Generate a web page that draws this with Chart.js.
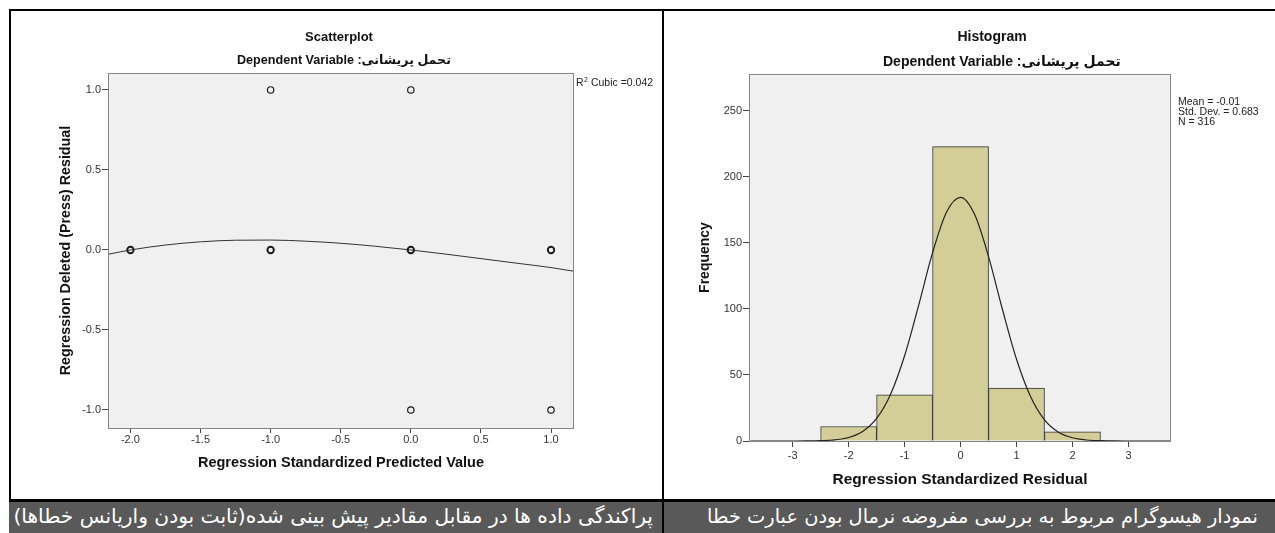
<!DOCTYPE html>
<html>
<head>
<meta charset="utf-8">
<script src="https://cdn.jsdelivr.net/npm/chart.js@4.4.1/dist/chart.umd.min.js"></script>
<style>
  html, body { margin: 0; padding: 0; background: #fff; overflow: hidden; }
  #page { position: relative; width: 1275px; height: 533px; overflow: hidden; background: #fff; }
  canvas { position: absolute; }
  #scatterCanvas { left: 11px; top: 11px; }
  #histCanvas { left: 665px; top: 11px; }
  .rule { position: absolute; background: #000; z-index: 3; }
  .caption {
    position: absolute; top: 502px; height: 31px; background: #595959; color: #fff;
    font-family: "DejaVu Sans", "Noto Sans", sans-serif;
    direction: rtl; text-align: right; line-height: 29px; white-space: nowrap; overflow: hidden;
    box-sizing: border-box; z-index: 2;
  }
</style>
</head>
<body>
<div id="page">
  <canvas id="scatterCanvas" width="660" height="488"></canvas>
  <canvas id="histCanvas" width="656" height="488"></canvas>

  <div class="caption" style="left:9px; width:654px; padding-right:10px; font-size:20.2px;">پراکندگی داده ها در مقابل مقادیر پیش بینی شده(ثابت بودن واریانس خطاها)</div>
  <div class="caption" style="left:663px; width:612px; padding-right:17px; font-size:19.4px;">نمودار هیسوگرام مربوط به بررسی مفروضه نرمال بودن عبارت خطا</div>

  <div class="rule" style="left:9px; top:9px; width:1266px; height:2px;"></div>
  <div class="rule" style="left:9px; top:9px; width:2px; height:493px;"></div>
  <div class="rule" style="left:662px; top:9px; width:2px; height:524px;"></div>
  <div class="rule" style="left:9px; top:499px; width:1266px; height:3px;"></div>
</div>

<script>
// ---- Scatterplot: standardized predicted value vs deleted (press) residual ----
const scatterX = [-2, -1, -1, 0, 0, 0, 1, 1];
const scatterY = [0, 1, 0, 1, 0, -1, 0, -1];
// cubic fit line, sampled along the predicted-value axis
const fitX = [-2.16, -2.0, -1.75, -1.5, -1.25, -1.0, -0.75, -0.5, -0.25, 0.0, 0.25, 0.5, 0.75, 1.0, 1.164];
const fitY = [-0.027, 0.0, 0.031, 0.051, 0.061, 0.062, 0.055, 0.042, 0.023, 0.0, -0.026, -0.054, -0.082, -0.110, -0.133];
const scatterXTicks = [-2.0, -1.5, -1.0, -0.5, 0.0, 0.5, 1.0];
const scatterYTicks = [-1.0, -0.5, 0.0, 0.5, 1.0];
const cubicR2 = '0.042';

// ---- Histogram of standardized residuals ----
const binCenters = [-2, -1, 0, 1, 2];
const binCounts = [11, 35, 223, 40, 7];
const histXTicks = [-3, -2, -1, 0, 1, 2, 3];
const histYTicks = [0, 50, 100, 150, 200, 250];
// normal curve overlay (frequency scale)
const curveX = [-3.75, -3.5, -3.25, -3.0, -2.75, -2.5, -2.25, -2.0, -1.75, -1.5, -1.25, -1.0, -0.75, -0.5, -0.25,
                0.0, 0.25, 0.5, 0.75, 1.0, 1.25, 1.5, 1.75, 2.0, 2.25, 2.5, 2.75, 3.0, 3.25, 3.5, 3.75];
const curveY = [0, 0, 0, 0.01, 0.06, 0.25, 0.85, 2.65, 7.19, 17.1, 35.5, 64.6, 102.6, 142.7, 173.5,
                184.6, 171.7, 139.7, 99.4, 61.9, 33.7, 16.0, 6.67, 2.43, 0.77, 0.22, 0.05, 0.01, 0, 0, 0];
const statLines = ['Mean = -0.01', 'Std. Dev. = 0.683', 'N = 316'];

// heading texts
const depLabel = 'Dependent Variable :';
const depName = 'تحمل پریشانی';

const SANS = '"Liberation Sans", Arial, "DejaVu Sans", sans-serif';
const TICK_COLOR = '#333';
const TITLE_COLOR = '#111';

// light grey plot panel with a thin grey frame
const plotFrame = {
  id: 'plotFrame',
  beforeDraw(chart, args, opts) {
    const { ctx, chartArea: a } = chart;
    ctx.save();
    ctx.fillStyle = opts.fill;
    ctx.fillRect(a.left, a.top, a.right - a.left, a.bottom - a.top);
    ctx.restore();
  },
  afterDatasetsDraw(chart, args, opts) {
    const { ctx, chartArea: a } = chart;
    ctx.save();
    ctx.strokeStyle = opts.stroke;
    ctx.lineWidth = 1;
    ctx.strokeRect(Math.round(a.left) + 0.5, Math.round(a.top) + 0.5,
                   Math.round(a.right - a.left) - 1, Math.round(a.bottom - a.top));
    ctx.restore();
  }
};

// chart heading and the dependent-variable line above the panel;
// an item made of several parts is written piece after piece from its x
const headings = {
  id: 'headings',
  afterDraw(chart, args, opts) {
    const { ctx } = chart;
    ctx.save();
    ctx.fillStyle = TITLE_COLOR;
    ctx.textBaseline = 'middle';
    ctx.direction = 'ltr';
    opts.items.forEach(it => {
      ctx.font = 'bold ' + it.size + 'px ' + SANS;
      if (it.parts) {
        ctx.textAlign = 'left';
        let x = it.x;
        it.parts.forEach(p => {
          ctx.fillText(p, x, it.y);
          x += ctx.measureText(p).width;
        });
      } else {
        ctx.textAlign = it.align;
        ctx.fillText(it.text, it.x, it.y);
      }
    });
    ctx.restore();
  }
};

// small notes printed to the right of the plot panel
const sideNotes = {
  id: 'sideNotes',
  afterDraw(chart, args, opts) {
    if (!opts.lines) return;
    const { ctx, chartArea: a } = chart;
    const size = opts.size;
    ctx.save();
    ctx.fillStyle = '#222';
    ctx.textBaseline = 'middle';
    ctx.textAlign = 'left';
    opts.lines.forEach((line, i) => {
      let x = a.right + opts.dx;
      const y = opts.y + i * opts.step;
      ctx.font = size + 'px ' + SANS;
      if (typeof line === 'string') {
        ctx.fillText(line, x, y);
      } else {
        ctx.fillText(line.base, x, y);
        x += ctx.measureText(line.base).width;
        ctx.font = Math.round(size * 0.7) + 'px ' + SANS;
        ctx.fillText(line.power, x + 0.5, y - 3);
        x += ctx.measureText(line.power).width + 0.5;
        ctx.font = size + 'px ' + SANS;
        ctx.fillText(line.rest, x, y);
      }
    });
    ctx.restore();
  }
};

function fixedTicks(values) {
  return scale => { scale.ticks = values.map(v => ({ value: v })); };
}

function axisGrid(len) {
  return { display: true, drawOnChartArea: false, drawTicks: true, tickLength: len, color: '#444', lineWidth: 1, offset: false };
}

function spacer(width) {
  return {
    type: 'linear', position: 'right', display: true,
    grid: { display: false }, ticks: { display: false }, border: { display: false },
    afterFit: s => { s.width = width; }
  };
}

// ---------------- Scatterplot ----------------
new Chart(document.getElementById('scatterCanvas'), {
  type: 'scatter',
  data: {
    datasets: [
      {
        label: 'Cases',
        data: scatterX.map((x, i) => ({ x, y: scatterY[i] })),
        pointStyle: 'circle',
        pointRadius: 3.2,
        pointBackgroundColor: 'rgba(0,0,0,0)',
        pointBorderColor: '#1a1a1a',
        pointBorderWidth: ctx => (ctx.raw && ctx.raw.y === 0 ? 1.9 : 1.2),
        showLine: false,
        order: 1
      },
      {
        label: 'Cubic fit',
        data: fitX.map((x, i) => ({ x, y: fitY[i] })),
        showLine: true,
        pointRadius: 0,
        borderColor: '#333',
        borderWidth: 1,
        cubicInterpolationMode: 'monotone',
        order: 2
      }
    ]
  },
  options: {
    responsive: false,
    animation: false,
    devicePixelRatio: 1,
    layout: { padding: { top: 62 } },
    plugins: {
      legend: { display: false },
      tooltip: { enabled: false },
      headings: {
        items: [
          { text: 'Scatterplot', size: 13, align: 'center', x: 328, y: 26 },
          { parts: [depLabel, depName], size: 12.6, x: 226, y: 50 }
        ]
      },
      plotFrame: { fill: '#f0f0f0', stroke: '#858585' },
      sideNotes: { dx: 2, y: 72, step: 10, size: 10.5, lines: [{ base: 'R', power: '2', rest: ' Cubic =' + cubicR2 }] }
    },
    scales: {
      x: {
        type: 'linear', min: -2.16, max: 1.164,
        afterBuildTicks: fixedTicks(scatterXTicks),
        ticks: { callback: v => v.toFixed(1), color: TICK_COLOR, font: { family: SANS, size: 11 }, padding: 0, maxRotation: 0, autoSkip: false },
        grid: axisGrid(5),
        border: { display: false },
        title: {
          display: true, text: 'Regression Standardized Predicted Value', color: TITLE_COLOR,
          font: { family: SANS, size: 14.5, weight: 'bold' }, padding: { top: 0, bottom: 27.3 }
        },
        afterFit: s => { s.height = 71; }
      },
      y: {
        type: 'linear', min: -1.1125, max: 1.106,
        afterBuildTicks: fixedTicks(scatterYTicks),
        ticks: { callback: v => v.toFixed(1), color: TICK_COLOR, font: { family: SANS, size: 11 }, padding: 1, autoSkip: false },
        grid: axisGrid(6),
        border: { display: false },
        title: {
          display: true, text: 'Regression Deleted (Press) Residual', color: TITLE_COLOR,
          font: { family: SANS, size: 14.3, weight: 'bold' }, padding: { top: 46.4, bottom: 0 }
        },
        afterFit: s => { s.width = 97; }
      },
      notes: spacer(97)
    }
  },
  plugins: [plotFrame, headings, sideNotes]
});

// ---------------- Histogram ----------------
new Chart(document.getElementById('histCanvas'), {
  type: 'bar',
  data: {
    datasets: [
      {
        type: 'line',
        label: 'Normal',
        data: curveX.map((x, i) => ({ x, y: curveY[i] })),
        borderColor: '#222',
        borderWidth: 1.2,
        pointRadius: 0,
        fill: false,
        cubicInterpolationMode: 'monotone',
        order: 0
      },
      {
        type: 'bar',
        label: 'Frequency',
        data: binCenters.map((x, i) => ({ x, y: binCounts[i] })),
        backgroundColor: '#d3ce97',
        borderColor: '#333',
        borderWidth: 1,
        borderSkipped: 'start',
        barPercentage: 1,
        categoryPercentage: 1,
        order: 1
      }
    ]
  },
  options: {
    responsive: false,
    animation: false,
    devicePixelRatio: 1,
    layout: { padding: { top: 63 } },
    plugins: {
      legend: { display: false },
      tooltip: { enabled: false },
      headings: {
        items: [
          { text: 'Histogram', size: 14, align: 'center', x: 327, y: 26 },
          { parts: [depLabel, depName], size: 14, x: 218, y: 51 }
        ]
      },
      plotFrame: { fill: '#f0f0f0', stroke: '#858585' },
      sideNotes: { dx: 7, y: 90.7, step: 10, size: 10.5, lines: statLines }
    },
    scales: {
      x: {
        type: 'linear', min: -3.78, max: 3.76, offset: false,
        afterBuildTicks: fixedTicks(histXTicks),
        ticks: { callback: v => String(v), color: TICK_COLOR, font: { family: SANS, size: 11 }, padding: 2, maxRotation: 0, autoSkip: false },
        grid: axisGrid(6),
        border: { display: false },
        title: {
          display: true, text: 'Regression Standardized Residual', color: TITLE_COLOR,
          font: { family: SANS, size: 15.5, weight: 'bold' }, padding: { top: 0, bottom: 9.7 }
        },
        afterFit: s => { s.height = 58; }
      },
      y: {
        type: 'linear', min: 0, max: 278,
        afterBuildTicks: fixedTicks(histYTicks),
        ticks: { callback: v => String(v), color: TICK_COLOR, font: { family: SANS, size: 11 }, padding: 1, autoSkip: false },
        grid: axisGrid(6),
        border: { display: false },
        title: {
          display: true, text: 'Frequency', color: TITLE_COLOR,
          font: { family: SANS, size: 14, weight: 'bold' }, padding: { top: 31.6, bottom: 0 }
        },
        afterFit: s => { s.width = 84; }
      },
      notes: spacer(150)
    }
  },
  plugins: [plotFrame, headings, sideNotes]
});
</script>
</body>
</html>
